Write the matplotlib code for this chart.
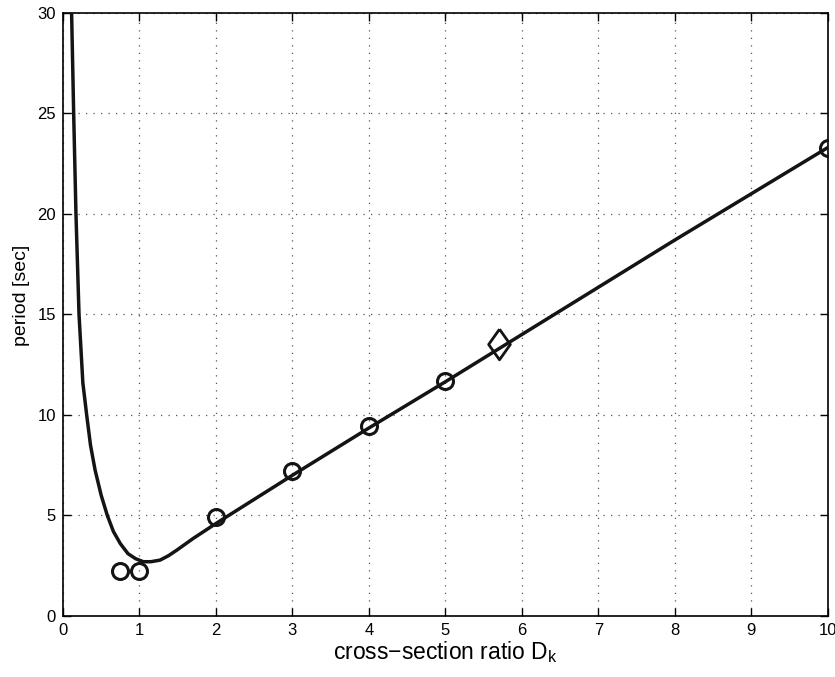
import matplotlib
matplotlib.use('Agg')
import matplotlib.pyplot as plt

plt.rcParams['font.family'] = ['Liberation Sans', 'DejaVu Sans']
plt.rcParams['mathtext.fontset'] = 'custom'
plt.rcParams['mathtext.rm'] = 'Liberation Sans'

# theoretical curve
curve_x = [0.113, 0.14, 0.17, 0.21, 0.26, 0.31, 0.36, 0.42, 0.50, 0.58, 0.66, 0.75,
           0.85, 0.95, 1.05, 1.15, 1.27, 1.38, 1.49, 1.7, 2.0, 3.0, 4.0, 5.0,
           6.0, 7.0, 8.0, 9.0, 10.0]
curve_y = [30.0, 25.0, 20.0, 15.0, 11.6, 10.0, 8.5, 7.26, 6.0, 5.0, 4.2, 3.6,
           3.1, 2.85, 2.7, 2.7, 2.78, 3.0, 3.28, 3.85, 4.6, 7.0, 9.35, 11.65,
           14.0, 16.35, 18.7, 21.0, 23.3]

# measured points
meas_x = [0.75, 1.0, 2.0, 3.0, 4.0, 5.0, 10.0]
meas_y = [2.25, 2.25, 4.9, 7.2, 9.45, 11.7, 23.3]

# special point
diam_x = [5.7]
diam_y = [13.55]

fig = plt.figure(figsize=(8.35, 6.77), dpi=100)
ax = fig.add_axes([0.0754, 0.0901, 0.916, 0.891])

ax.plot(curve_x, curve_y, color='#141414', lw=2.5, zorder=3)
ax.plot(meas_x, meas_y, 'o', ms=11.5, mfc='none', mec='#141414', mew=2.2, zorder=4)
# MATLAB-style diamond, taller than wide
diamond = [(0, 1), (0.71, 0), (0, -1), (-0.71, 0), (0, 1)]
ax.plot(diam_x, diam_y, marker=diamond, ls='none', ms=22, mfc='none',
        mec='#141414', mew=2.0, zorder=4)

ax.set_xlim(0, 10)
ax.set_ylim(0, 30)
ax.set_xticks(range(0, 11))
ax.set_yticks(range(0, 31, 5))

ax.grid(True, color='#555555', linestyle=(0, (1, 5)), lw=0.9)
ax.tick_params(direction='in', length=6, width=1, top=True, right=True,
               labelsize=12, pad=5)
for s in ax.spines.values():
    s.set_linewidth(1.2)

ax.set_xlabel('cross\u2212section ratio D$_\\mathregular{k}$', fontsize=16.5, labelpad=1)
ax.set_ylabel('period [sec]', fontsize=14)
ax.yaxis.set_label_coords(-0.043, 0.532)

fig.savefig('out.png', dpi=100)
